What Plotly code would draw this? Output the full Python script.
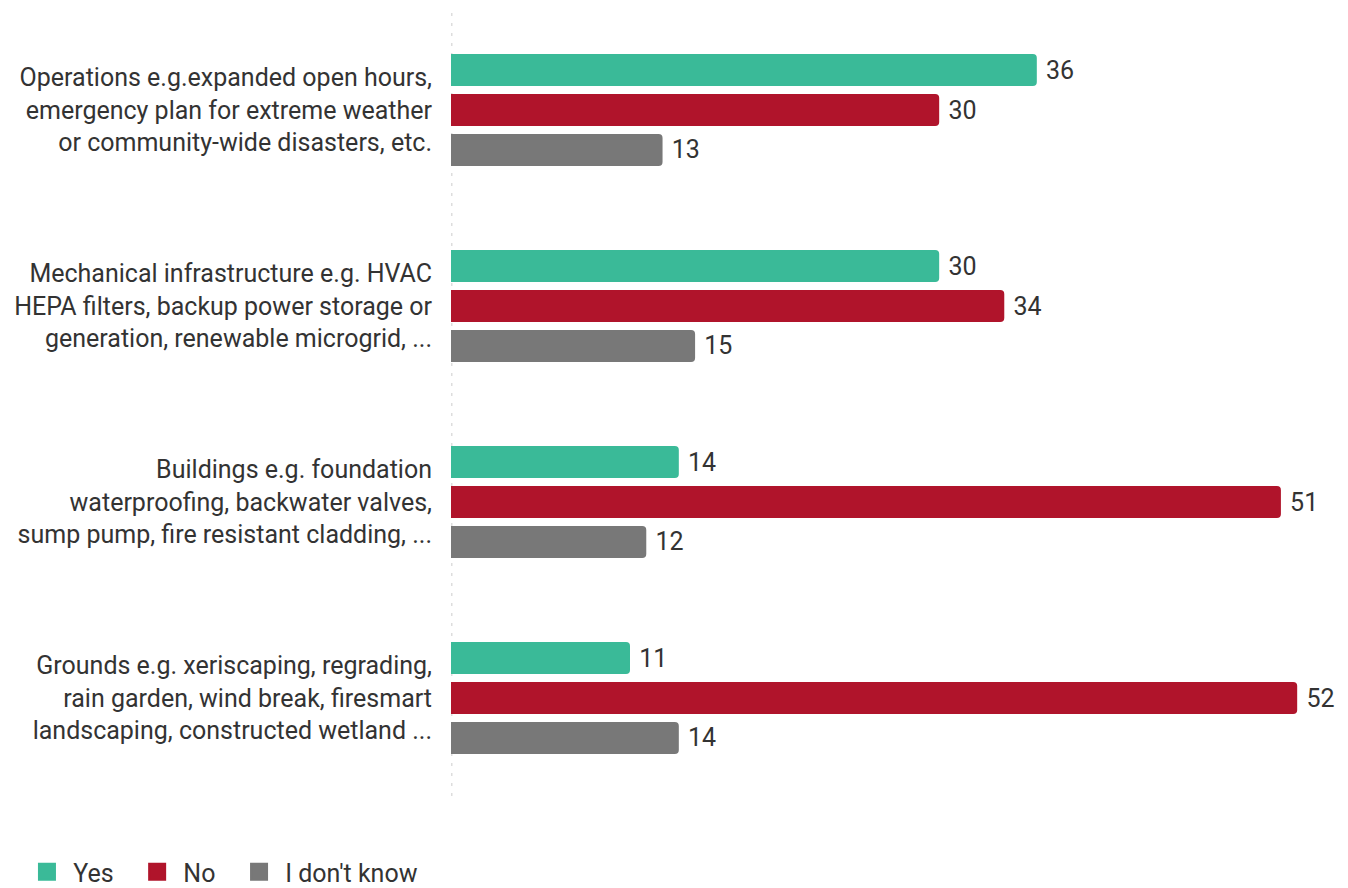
import plotly.graph_objects as go

categories = [
    "Operations e.g.expanded open hours,<br>emergency plan for extreme weather<br>or community-wide disasters, etc.",
    "Mechanical infrastructure e.g. HVAC<br>HEPA filters, backup power storage or<br>generation, renewable microgrid, ...",
    "Buildings e.g. foundation<br>waterproofing, backwater valves,<br>sump pump, fire resistant cladding, ...",
    "Grounds e.g. xeriscaping, regrading,<br>rain garden, wind break, firesmart<br>landscaping, constructed wetland ...",
]
yes_values = [36, 30, 14, 11]
no_values = [30, 34, 51, 52]
dont_know_values = [13, 15, 12, 14]

series = [
    ("Yes", yes_values, "#3ABA98"),
    ("No", no_values, "#B0142B"),
    ("I don't know", dont_know_values, "#787878"),
]

FONT = "Roboto, 'Open Sans', sans-serif"
TEXT_COLOR = "#333333"
FSIZE = 25
NBSP = "\u00a0"

fig = go.Figure()
for i, (name, vals, color) in enumerate(series):
    fig.add_trace(go.Bar(
        y=categories, x=vals, name=name, orientation="h",
        marker=dict(color=color, line=dict(width=0)),
        text=vals, texttemplate=NBSP + "%{x}", textposition="outside",
        textfont=dict(size=FSIZE, color=TEXT_COLOR, family=FONT),
        cliponaxis=False, showlegend=False,
    ))
    # legend swatch (padded label keeps the entries spaced apart)
    label = NBSP + name + (NBSP * 3 if i < len(series) - 1 else "")
    fig.add_trace(go.Scatter(
        x=[None], y=[None], mode="markers", name=label,
        marker=dict(symbol="square", size=16, color=color,
                    line=dict(color=color, width=2)),
        showlegend=True,
    ))

# dotted baseline at zero
fig.add_shape(type="line", xref="x", yref="paper", x0=0, x1=0, y0=0, y1=1,
              line=dict(color="#dddddd", width=3, dash="3px,7px"), layer="below")

fig.update_layout(
    width=1348, height=888,
    margin=dict(l=451, r=2, t=12, b=92, autoexpand=False),
    paper_bgcolor="white", plot_bgcolor="white",
    barmode="group", bargap=0.388, bargroupgap=0.2, barcornerradius=4,
    font=dict(family=FONT, size=FSIZE, color=TEXT_COLOR),
    xaxis=dict(range=[0, 55], visible=False, fixedrange=True),
    yaxis=dict(autorange="reversed", showline=False, showgrid=False, zeroline=False,
               ticks="", ticklabelstandoff=18,
               tickfont=dict(size=FSIZE, color=TEXT_COLOR, family=FONT)),
    legend=dict(orientation="h", xref="container", yref="paper",
                x=0.02, y=-0.097, xanchor="left", yanchor="middle",
                font=dict(size=FSIZE, color=TEXT_COLOR, family=FONT),
                itemsizing="trace", itemwidth=30),
)

fig.write_html("out.html")
